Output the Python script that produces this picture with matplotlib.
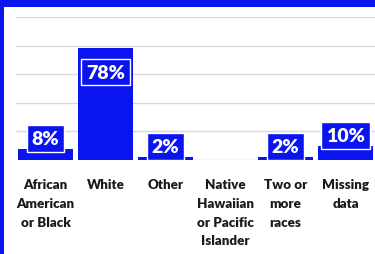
import matplotlib.pyplot as plt
from matplotlib.patches import Rectangle

# data
categories = ['African\nAmerican\nor Black', 'White', 'Other',
              'Native\nHawaiian\nor Pacific\nIslander', 'Two or\nmore\nraces', 'Missing\ndata']
values = [8, 78, 2, 0, 2, 10]
labels = ['8%', '78%', '2%', '', '2%', '10%']

blue = '#0a14ee'
fonts = ['Lato', 'DejaVu Sans']

fig = plt.figure(figsize=(3.75, 2.55), dpi=100, facecolor=blue)
# white panel inside the blue frame
fig.patches.append(Rectangle((4 / 375, 0), 1, 1 - 8 / 255, transform=fig.transFigure,
                             facecolor='white', edgecolor='none', zorder=-1))

ax = fig.add_axes([15.5 / 375, 94 / 255, 360 / 375, 143 / 255])
ax.set_facecolor('none')
ax.set_zorder(1)

x = list(range(len(categories)))
ax.bar(x, values, width=0.92, color=blue, zorder=2)

ax.set_xlim(-0.5, 5.5)
ax.set_ylim(0, 100)
ax.set_yticks([0, 20, 40, 60, 80, 100])
ax.yaxis.grid(True, color='#d9d9d9', linewidth=1)
ax.set_axisbelow(True)
ax.tick_params(axis='y', left=False, labelleft=False)
for s in ax.spines.values():
    s.set_visible(False)

ax.set_xticks(x)
ax.set_xticklabels(categories, family=fonts, fontweight='heavy', fontsize=9.6,
                   color='#1a1a1a', linespacing=1.68, va='top')
ax.tick_params(axis='x', length=0, pad=13)

for i, (v, lab) in enumerate(zip(values, labels)):
    if not lab:
        continue
    off = -17 if v > 50 else 7.5
    ax.annotate(lab, xy=(i, v), xytext=(0, off), textcoords='offset points',
                ha='center', va='center', color='white', fontsize=14,
                family=fonts, fontweight='heavy', zorder=5,
                bbox=dict(boxstyle='square,pad=0.25', fc=blue, ec='white', lw=1))

fig.savefig('out.png', dpi=100, facecolor=blue)
